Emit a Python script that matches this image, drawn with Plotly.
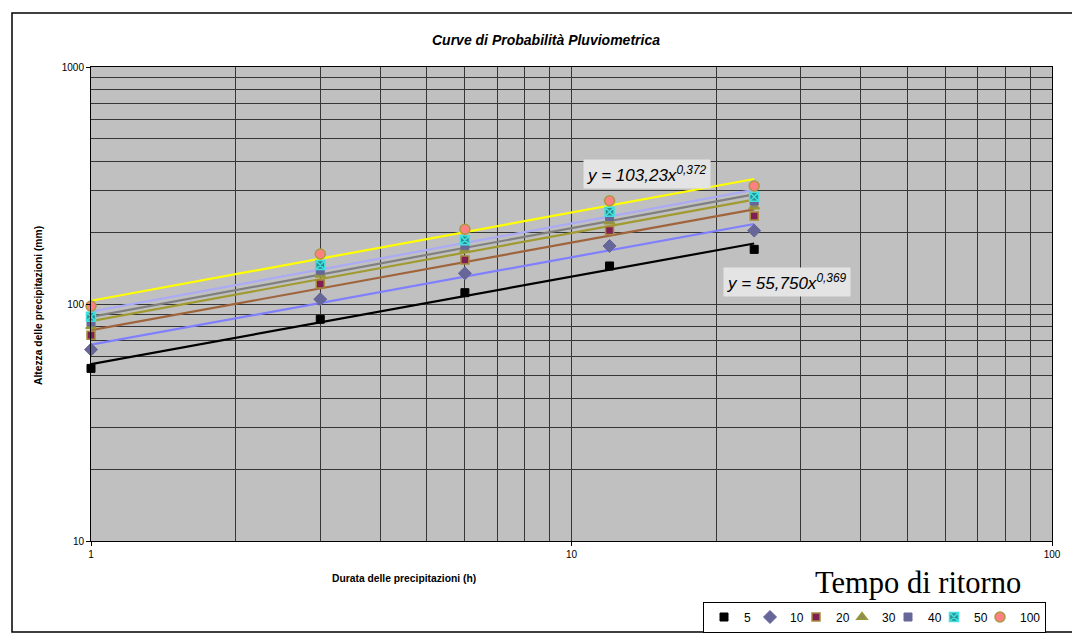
import numpy as np
import plotly.graph_objects as go

# ---------------- data ----------------
durations = [1, 3, 6, 12, 24]                     # h
return_periods = ["5", "10", "20", "30", "40", "50", "100"]
h_T5 = [53.5, 86.2, 111.6, 144.7, 170.0]
h_T10 = [64.2, 104.8, 134.7, 175.7, 204.0]
h_T20 = [73.9, 121.4, 153.5, 204.0, 235.0]
h_T30 = [80.5, 133.0, 169.5, 223.0, 258.0]
h_T40 = [84.0, 139.0, 177.0, 234.0, 272.0]
h_T50 = [88.3, 146.0, 186.0, 245.0, 283.6]
h_T100 = [98.0, 162.5, 206.7, 272.8, 314.7]

x_ticks = [1, 10, 100]
y_ticks = [10, 100, 1000]
x_minor = [2, 3, 4, 5, 6, 7, 8, 9, 20, 30, 40, 50, 60, 70, 80, 90]
y_minor = [20, 30, 40, 50, 60, 70, 80, 90, 200, 300, 400, 500, 600, 700, 800, 900]

eq_T100 = "y = 103,23x<sup>0,372</sup>"
eq_T5 = "y = 55,750x<sup>0,369</sup>"

series = [h_T5, h_T10, h_T20, h_T30, h_T40, h_T50, h_T100]

# ---------------- styles ----------------
FONT = "Liberation Sans, Arial, sans-serif"
OFF = 8                                   # page body margin
W, H = 1080 - OFF, 634 - OFF
L, R, T, B = 91 - OFF, 1052 - OFF, 67 - OFF, 541 - OFF   # plot-area edges (figure px)


def px(xp):
    """page x pixel -> paper x"""
    return (xp - OFF - L) / (R - L)


def py(yp):
    """page y pixel -> paper y"""
    return (B - (yp - OFF)) / (B - T)


marker_styles = [
    dict(symbol="square", size=8, color="#000000", line=dict(color="#000000", width=1)),
    dict(symbol="diamond", size=10, color="#666699", line=dict(color="#666699", width=1)),
    dict(symbol="square", size=8, color="#7F1F55", line=dict(color="#A88A3C", width=1.5)),
    dict(symbol="triangle-up", size=9, color="#8C8C5E", line=dict(color="#999933", width=1.5)),
    dict(symbol="square", size=8, color="#666699", line=dict(color="#666699", width=1)),
    dict(symbol="square-x", size=9, color="#2E8C8C", line=dict(color="#40E0E0", width=1.5)),
    dict(symbol="circle", size=10, color="#FF8080", line=dict(color="#A89A40", width=1.5)),
]
line_colors = ["#000000", "#7F7FFF", "#A0643C", "#A09A30", "#808080", "#ABABF5", "#FFFF00"]

fig = go.Figure()

x_arr = np.array(durations, dtype=float)
# power-law trend lines (least squares in log-log space)
for vals, col in zip(series, line_colors):
    b, loga = np.polyfit(np.log(x_arr), np.log(np.array(vals)), 1)
    fit = np.exp(loga) * x_arr ** b
    fig.add_trace(go.Scatter(x=durations, y=fit, mode="lines",
                             line=dict(color=col, width=2.2),
                             showlegend=False, hoverinfo="skip", cliponaxis=False))

for name, vals, ms in zip(return_periods, series, marker_styles):
    lw = 20 if name == "100" else 1
    fig.add_trace(go.Scatter(x=durations, y=vals, mode="markers", name=name,
                             marker=ms, cliponaxis=False, legendwidth=lw))

grid = "#363636"
fig.update_xaxes(type="log", range=[0, 2], tickvals=x_ticks, ticktext=[str(v) for v in x_ticks],
                 ticks="outside", ticklen=4, tickcolor="black", showline=True, linecolor="black",
                 linewidth=1, mirror=True, showgrid=True, gridcolor=grid, gridwidth=1,
                 minor=dict(tickvals=x_minor, showgrid=True, gridcolor=grid, gridwidth=1, ticks=""),
                 tickfont=dict(family=FONT, size=10, color="black"), zeroline=False,
                 automargin=False)
fig.update_yaxes(type="log", range=[1, 3], tickvals=y_ticks, ticktext=[str(v) for v in y_ticks],
                 ticks="outside", ticklen=4, tickcolor="black", showline=True, linecolor="black",
                 linewidth=1, mirror=True, showgrid=True, gridcolor=grid, gridwidth=1,
                 minor=dict(tickvals=y_minor, showgrid=True, gridcolor=grid, gridwidth=1, ticks=""),
                 tickfont=dict(family=FONT, size=10, color="black"), zeroline=False,
                 automargin=False)

annotations = [
    dict(text="<b><i>Curve di Probabilità Pluviometrica</i></b>", xref="paper", yref="paper",
         x=px(546), y=py(40), showarrow=False,
         font=dict(family=FONT, size=14, color="black"), xanchor="center", yanchor="middle"),
    dict(text="<b>Durata delle precipitazioni (h)</b>", xref="paper", yref="paper",
         x=px(404), y=py(578), showarrow=False,
         font=dict(family=FONT, size=10.3, color="black"), xanchor="center", yanchor="middle"),
    dict(text="<b>Altezza delle precipitazioni (mm)</b>", xref="paper", yref="paper",
         x=px(38), y=py(306), showarrow=False, textangle=-90,
         font=dict(family=FONT, size=10.3, color="black"), xanchor="center", yanchor="middle"),
    dict(text="Tempo di ritorno", xref="paper", yref="paper",
         x=px(918), y=py(583), showarrow=False,
         font=dict(family="Liberation Serif, Times New Roman, serif", size=30.5, color="black"),
         xanchor="center", yanchor="middle"),
    dict(text="<i>" + eq_T100 + "</i>", xref="paper", yref="paper",
         x=px(647), y=py(174), showarrow=False,
         font=dict(family=FONT, size=17, color="black"), bgcolor="#E4E4E4",
         borderpad=3, xanchor="center", yanchor="middle"),
    dict(text="<i>" + eq_T5 + "</i>", xref="paper", yref="paper",
         x=px(787), y=py(282), showarrow=False,
         font=dict(family=FONT, size=17, color="black"), bgcolor="#E4E4E4",
         borderpad=3, xanchor="center", yanchor="middle"),
]

fig.update_layout(
    width=W, height=H,
    margin=dict(l=L, r=W - R, t=T, b=H - B, autoexpand=False),
    paper_bgcolor="white", plot_bgcolor="#C0C0C0",
    font=dict(family=FONT, color="black"),
    annotations=annotations,
    showlegend=True,
    legend=dict(orientation="h", xref="container", yref="container",
                xanchor="right", x=(1046 - OFF) / W,
                yanchor="middle", y=1 - (617 - OFF) / H,
                bgcolor="white", bordercolor="black", borderwidth=1,
                font=dict(family=FONT, size=12, color="black"), itemwidth=30,
                tracegroupgap=0),
    shapes=[dict(type="rect", xref="paper", yref="paper",
                 x0=px(12), x1=px(1077), y0=py(632), y1=py(13),
                 line=dict(color="black", width=1.5), fillcolor="rgba(0,0,0,0)", layer="below")],
)

fig.write_html("out.html")
